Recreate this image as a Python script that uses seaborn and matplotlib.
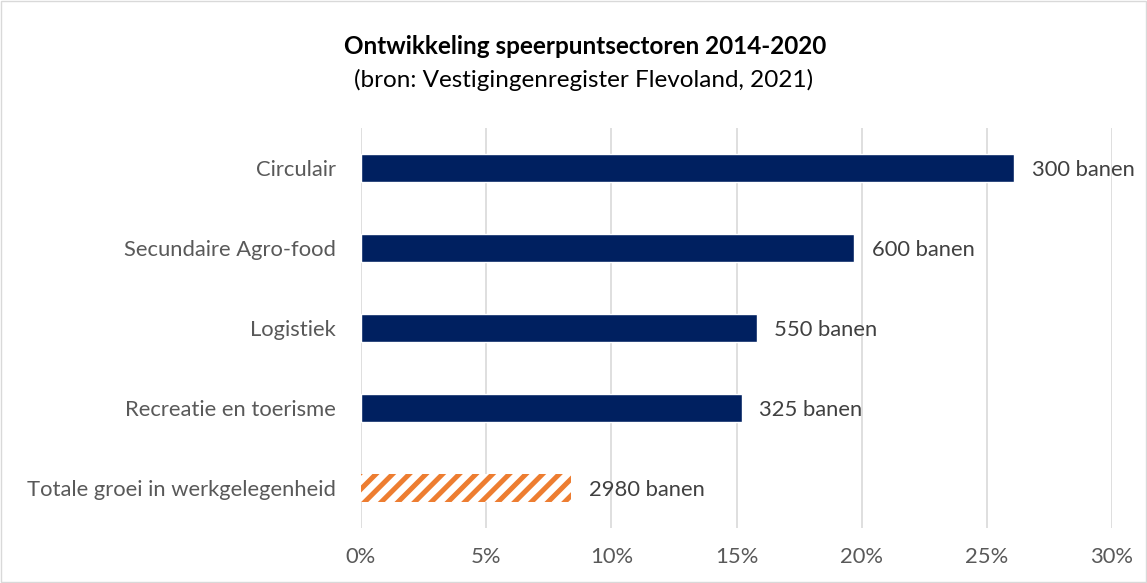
import matplotlib
matplotlib.use("Agg")
import matplotlib.pyplot as plt
import matplotlib.patches as mpatches
import pandas as pd
import seaborn as sns
from matplotlib.ticker import FuncFormatter

categories = [
    "Circulair",
    "Secundaire Agro-food",
    "Logistiek",
    "Recreatie en toerisme",
    "Totale groei in werkgelegenheid",
]
growth_pct = [26.1, 19.7, 15.8, 15.2, 8.4]
jobs = [300, 600, 550, 325, 2980]

NAVY = "#002060"
ORANGE = "#ED7D31"
TEXT = "#595959"

sns.set_theme(style="white")
plt.rcParams["font.family"] = ["Lato", "DejaVu Sans"]
plt.rcParams["hatch.linewidth"] = 3.6

df = pd.DataFrame({"sector": categories, "groei": growth_pct})

fig = plt.figure(figsize=(11.47, 5.83), dpi=100)
ax = fig.add_axes([361 / 1147, 1 - 528 / 583, (1112 - 361) / 1147, 400 / 583])

palette = {c: NAVY for c in categories}
palette[categories[-1]] = "white"
sns.barplot(data=df, x="groei", y="sector", hue="sector", palette=palette,
            orient="h", width=0.35, saturation=1, legend=False, ax=ax, zorder=3)

# hatched bar for total growth
last = ax.patches[-1]
last.set_facecolor("white")
last.set_edgecolor(ORANGE)
last.set_hatch("//")
last.set_linewidth(0)

for bar, n in zip(ax.patches, jobs):
    ax.text(bar.get_width() + 0.7, bar.get_y() + bar.get_height() / 2 + 0.02,
            f"{n} banen", va="center", ha="left", fontsize=15.8, color="#404040",
            zorder=4)

ax.set_xlim(0, 30)
ax.set_ylim(4.5, -0.5)
ax.set_xticks(range(0, 31, 5))
ax.xaxis.set_major_formatter(FuncFormatter(lambda v, _: f"{v:.0f}%"))
ax.grid(axis="x", color="#d9d9d9", lw=1.2, zorder=0)
ax.grid(axis="y", visible=False)
for s in ax.spines.values():
    s.set_visible(False)
ax.tick_params(axis="both", length=0, labelsize=15.8, labelcolor=TEXT)
ax.tick_params(axis="y", pad=18)
ax.tick_params(axis="x", pad=14)
ax.set_xlabel("")
ax.set_ylabel("")

fig.text(585 / 1147, 1 - 47 / 583, "Ontwikkeling speerpuntsectoren 2014-2020",
         ha="center", va="center", fontsize=17.5, fontweight="bold", color="black")
fig.text(584 / 1147, 1 - 80 / 583, "(bron: Vestigingenregister Flevoland, 2021)",
         ha="center", va="center", fontsize=17.5, color="black")

fig.patches.append(mpatches.Rectangle((0.001, 0.001), 0.998, 0.998,
                                      transform=fig.transFigure, fill=False,
                                      edgecolor="#d9d9d9", lw=1))

fig.savefig("out.png", dpi=100)
